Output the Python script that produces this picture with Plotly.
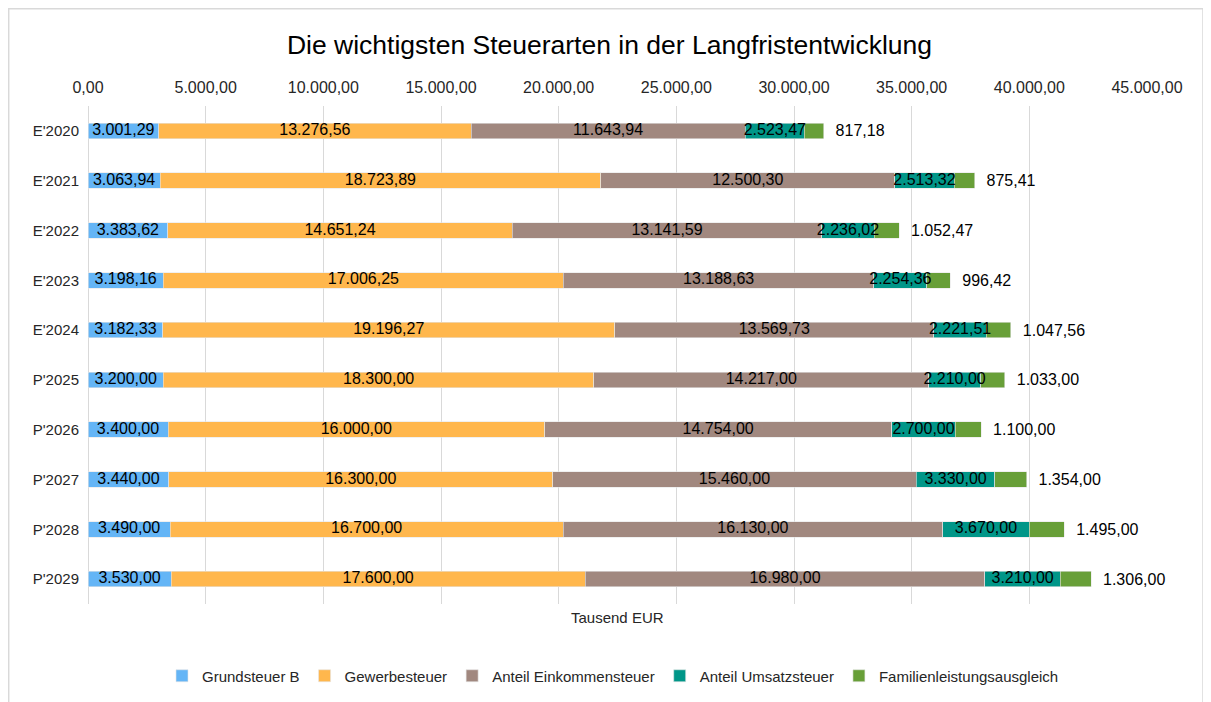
import plotly.graph_objects as go

categories = ["E'2020", "E'2021", "E'2022", "E'2023", "E'2024",
              "P'2025", "P'2026", "P'2027", "P'2028", "P'2029"]
grundsteuer_b = [3001.29, 3063.94, 3383.62, 3198.16, 3182.33, 3200.00, 3400.00, 3440.00, 3490.00, 3530.00]
gewerbesteuer = [13276.56, 18723.89, 14651.24, 17006.25, 19196.27, 18300.00, 16000.00, 16300.00, 16700.00, 17600.00]
einkommensteuer = [11643.94, 12500.30, 13141.59, 13188.63, 13569.73, 14217.00, 14754.00, 15460.00, 16130.00, 16980.00]
umsatzsteuer = [2523.47, 2513.32, 2236.02, 2254.36, 2221.51, 2210.00, 2700.00, 3330.00, 3670.00, 3210.00]
familien = [817.18, 875.41, 1052.47, 996.42, 1047.56, 1033.00, 1100.00, 1354.00, 1495.00, 1306.00]

series = [
    ("Grundsteuer B", grundsteuer_b, "#64B5F6"),
    ("Gewerbesteuer", gewerbesteuer, "#FFB74D"),
    ("Anteil Einkommensteuer", einkommensteuer, "#A1887F"),
    ("Anteil Umsatzsteuer", umsatzsteuer, "#009688"),
    ("Familienleistungsausgleich", familien, "#689F38"),
]

FONT = "Liberation Sans, Arial, sans-serif"
LBL = 16
fig = go.Figure()
for i, (name, vals, col) in enumerate(series):
    last = i == len(series) - 1
    fig.add_trace(go.Bar(
        name=name, y=categories, x=vals, orientation="h",
        marker=dict(color=col, line=dict(color="#E6E6E6", width=0.6)),
        texttemplate="  %{x:,.2f}" if last else None,
        textposition="outside" if last else "none",
        textangle=0,
        constraintext="none",
        cliponaxis=False,
        outsidetextfont=dict(family=FONT, size=LBL, color="#000000"),
        hoverinfo="skip",
    ))

# inside labels drawn on top of all bars, centred on each segment
base = [0.0] * len(categories)
for i, (name, vals, col) in enumerate(series):
    mids = [b + v / 2 for b, v in zip(base, vals)]
    if i < len(series) - 1:
        fig.add_trace(go.Scatter(
            x=mids, y=categories, mode="text",
            text=vals, texttemplate="%{text:,.2f}", textposition="middle center",
            textfont=dict(family=FONT, size=LBL, color="#000000"),
            showlegend=False, hoverinfo="skip", cliponaxis=False,
        ))
    base = [b + v for b, v in zip(base, vals)]

# figure is drawn with an 8px page offset (body margin)
OFF = 8
W, H = 1211 - OFF, 702 - OFF
L, R, T, B = 88 - OFF, 1147 - OFF, 106 - OFF, 604 - OFF
def px(x):
    return (x - OFF - L) / (R - L)
def py(y):
    return (B - (y - OFF)) / (B - T)

fig.update_layout(
    width=W, height=H,
    barmode="stack", bargap=0.69,
    separators=",.",
    paper_bgcolor="white", plot_bgcolor="white",
    margin=dict(l=L, r=W - R, t=T, b=H - B, pad=0, autoexpand=False),
    font=dict(family=FONT, size=15, color="#404040"),
    title=dict(text="Die wichtigsten Steuerarten in der Langfristentwicklung",
               x=0.5, xanchor="center", y=1 - (45 - OFF) / H, yanchor="middle",
               font=dict(family=FONT, size=26.5, color="#000000")),
    xaxis=dict(range=[0, 45000], dtick=5000, tickformat=",.2f", side="top",
               showgrid=True, gridcolor="#D9D9D9", gridwidth=1,
               zeroline=True, zerolinecolor="#D9D9D9", zerolinewidth=1,
               showline=False, ticks="", ticklabelstandoff=9,
               tickfont=dict(family=FONT, size=16, color="#262626")),
    yaxis=dict(autorange="reversed", showgrid=False, showline=False, ticks="",
               ticklabelstandoff=8,
               tickfont=dict(family=FONT, size=15, color="#262626")),
    legend=dict(orientation="h", x=px(613), xanchor="center", y=py(676), yanchor="middle",
                font=dict(family=FONT, size=15, color="#262626"),
                traceorder="normal", itemwidth=30, tracegroupgap=0),
    showlegend=True,
    annotations=[dict(text="Tausend EUR", xref="paper", yref="paper",
                      x=px(617), y=py(617), xanchor="center", yanchor="middle",
                      showarrow=False, font=dict(family=FONT, size=15, color="#262626"))],
    shapes=[dict(type="rect", xref="paper", yref="paper",
                 x0=px(8.7), x1=px(1203), y0=py(720), y1=py(8.7),
                 line=dict(color="#D9D9D9", width=1.5), layer="below")],
)

fig.write_html("out.html")
